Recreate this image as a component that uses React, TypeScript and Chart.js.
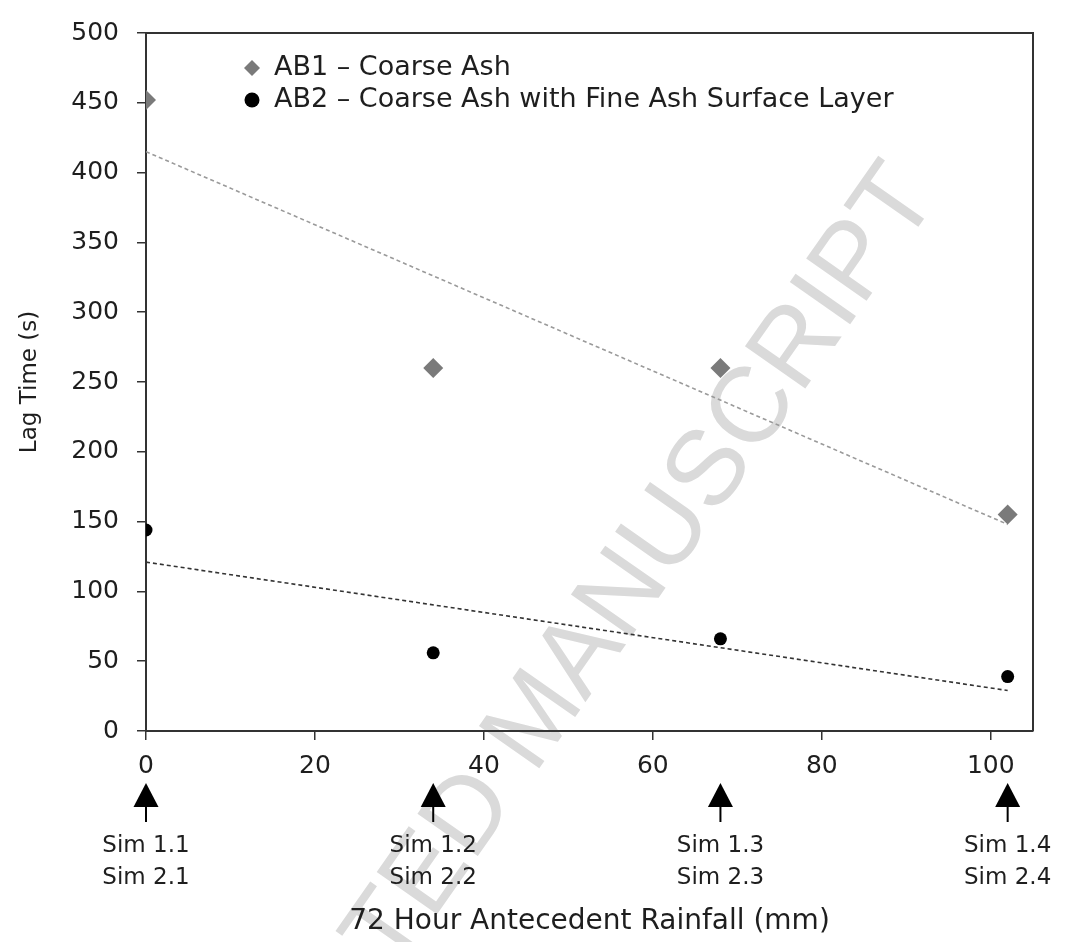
import React, { useEffect, useRef } from 'react';
import { Chart, registerables } from 'chart.js';

Chart.register(...registerables);

// ---- data ----
const rainfall = [0, 34, 68, 102];
const ab1LagTime = [452, 260, 260, 155];
const ab2LagTime = [144, 56, 66, 39];
const trendX = [0, 102];
const ab1Trend = [415, 148];
const ab2Trend = [121, 29];
const simTop = ['Sim 1.1', 'Sim 1.2', 'Sim 1.3', 'Sim 1.4'];
const simBottom = ['Sim 2.1', 'Sim 2.2', 'Sim 2.3', 'Sim 2.4'];
const legendLabels = ['AB1 – Coarse Ash', 'AB2 – Coarse Ash with Fine Ash Surface Layer'];
const xTitle = '72 Hour Antecedent Rainfall (mm)';
const yTitle = 'Lag Time (s)';
const watermark = 'ACCEPTED MANUSCRIPT';
const X_MIN = 0, X_MAX = 105, X_STEP = 20;
const Y_MIN = 0, Y_MAX = 500, Y_STEP = 50;

const FONT = '"DejaVu Sans", sans-serif';
const TEXT = '#1e1e1e';
const AB1_COLOR = '#7a7a7a';
const AB2_COLOR = '#000000';

const watermarkPlugin = {
  id: 'watermark',
  beforeDraw(chart: any) {
    const ctx = chart.ctx;
    ctx.save();
    ctx.translate(940, 196);
    ctx.rotate(-55 * Math.PI / 180);
    ctx.font = '107px "Liberation Sans", Arial, sans-serif';
    ctx.fillStyle = '#dadada';
    ctx.textAlign = 'right';
    ctx.textBaseline = 'alphabetic';
    ctx.fillText(watermark, 0, 0);
    ctx.restore();
  },
};

const decorPlugin = {
  id: 'decor',
  afterDraw(chart: any) {
    const ctx = chart.ctx;
    const { left, right, top, bottom } = chart.chartArea;
    const xs = chart.scales.x;
    ctx.save();
    // top/right border
    ctx.strokeStyle = '#333';
    ctx.lineWidth = 2;
    ctx.beginPath();
    ctx.moveTo(left, top);
    ctx.lineTo(right, top);
    ctx.lineTo(right, bottom);
    ctx.stroke();

    // arrows + sim labels
    ctx.fillStyle = '#000';
    ctx.strokeStyle = '#000';
    ctx.font = '23px ' + FONT;
    ctx.textAlign = 'center';
    ctx.textBaseline = 'middle';
    rainfall.forEach((v, i) => {
      const x = xs.getPixelForValue(v);
      ctx.beginPath();
      ctx.moveTo(x, bottom + 52);
      ctx.lineTo(x + 12.5, bottom + 76);
      ctx.lineTo(x - 12.5, bottom + 76);
      ctx.closePath();
      ctx.fill();
      ctx.lineWidth = 2;
      ctx.beginPath();
      ctx.moveTo(x, bottom + 75);
      ctx.lineTo(x, bottom + 91);
      ctx.stroke();
      ctx.fillStyle = TEXT;
      ctx.fillText(simTop[i], x, bottom + 115);
      ctx.fillText(simBottom[i], x, bottom + 147);
      ctx.fillStyle = '#000';
    });

    // legend
    const lx = left + 106;
    const rows = [top + 35, top + 67];
    ctx.fillStyle = AB1_COLOR;
    ctx.beginPath();
    ctx.moveTo(lx, rows[0] - 8);
    ctx.lineTo(lx + 8, rows[0]);
    ctx.lineTo(lx, rows[0] + 8);
    ctx.lineTo(lx - 8, rows[0]);
    ctx.closePath();
    ctx.fill();
    ctx.fillStyle = AB2_COLOR;
    ctx.beginPath();
    ctx.arc(lx, rows[1], 7.5, 0, Math.PI * 2);
    ctx.fill();
    ctx.fillStyle = TEXT;
    ctx.font = '27px ' + FONT;
    ctx.textAlign = 'left';
    ctx.textBaseline = 'middle';
    ctx.fillText(legendLabels[0], lx + 22, rows[0]);
    ctx.fillText(legendLabels[1], lx + 22, rows[1]);
    ctx.restore();
  },
};

export default function App() {
  const ref = useRef<HTMLCanvasElement>(null);
  useEffect(() => {
    document.body.style.margin = '0';
    const canvas = ref.current!;
    const chart = new Chart(canvas, {
      type: 'scatter',
      data: {
        datasets: [
          {
            label: legendLabels[0],
            data: rainfall.map((x, i) => ({ x, y: ab1LagTime[i] })),
            pointStyle: 'rectRot',
            pointRadius: 10,
            backgroundColor: AB1_COLOR,
            borderColor: AB1_COLOR,
            borderWidth: 0,
          },
          {
            label: legendLabels[1],
            data: rainfall.map((x, i) => ({ x, y: ab2LagTime[i] })),
            pointStyle: 'circle',
            pointRadius: 6.5,
            backgroundColor: AB2_COLOR,
            borderColor: AB2_COLOR,
            borderWidth: 0,
          },
          {
            label: 'AB1 trend',
            data: trendX.map((x, i) => ({ x, y: ab1Trend[i] })),
            showLine: true,
            pointRadius: 0,
            borderColor: '#9a9a9a',
            borderWidth: 1.6,
            borderDash: [4, 3],
          },
          {
            label: 'AB2 trend',
            data: trendX.map((x, i) => ({ x, y: ab2Trend[i] })),
            showLine: true,
            pointRadius: 0,
            borderColor: '#333',
            borderWidth: 1.6,
            borderDash: [4, 3],
          },
        ],
      },
      options: {
        responsive: false,
        animation: false,
        devicePixelRatio: 1,
        layout: { padding: { left: 0, right: 33, top: 30, bottom: 0 } },
        plugins: {
          legend: { display: false },
          tooltip: { enabled: false },
        },
        scales: {
          x: {
            type: 'linear',
            min: X_MIN,
            max: X_MAX,
            ticks: {
              stepSize: X_STEP,
              includeBounds: false,
              color: TEXT,
              font: { family: FONT, size: 25 },
              padding: 11,
              maxRotation: 0,
            },
            grid: { drawOnChartArea: false, drawTicks: true, tickLength: 9, color: '#333', lineWidth: 1.5 },
            border: { display: true, color: '#333', width: 2 },
            title: {
              display: true,
              text: xTitle,
              color: TEXT,
              font: { family: FONT, size: 28 },
              padding: { top: 4, bottom: 3 },
            },
            afterFit: (s: any) => { s.height = 211; },
          },
          y: {
            type: 'linear',
            min: Y_MIN,
            max: Y_MAX,
            ticks: {
              stepSize: Y_STEP,
              color: TEXT,
              font: { family: FONT, size: 25 },
              padding: 18,
            },
            grid: { drawOnChartArea: false, drawTicks: true, tickLength: 9, color: '#333', lineWidth: 1.5 },
            border: { display: true, color: '#333', width: 2 },
            title: {
              display: true,
              text: yTitle,
              color: TEXT,
              font: { family: FONT, size: 23 },
              padding: { top: 16, bottom: 4 },
            },
            afterFit: (s: any) => { s.width = 146; },
          },
        },
      },
      plugins: [watermarkPlugin, decorPlugin],
    });
    return () => chart.destroy();
  }, []);
  return (
    <div style={{ width: 1066, height: 942 }}>
      <canvas ref={ref} width={1066} height={942} />
    </div>
  );
}
